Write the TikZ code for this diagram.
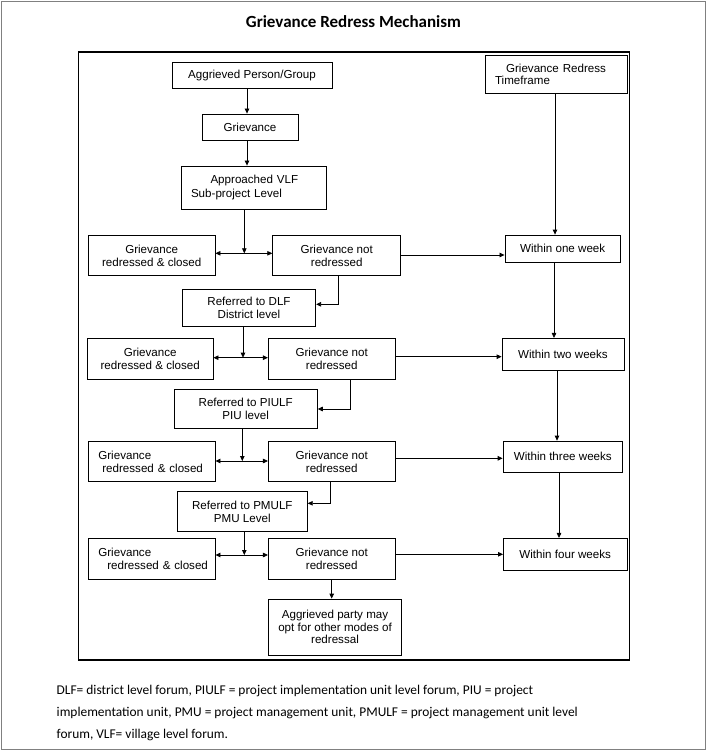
\documentclass[tikz,border=0pt]{standalone}
\usepackage{fontspec}
\setmainfont{Liberation Sans}
\newfontfamily\calfont{Carlito}
\usetikzlibrary{arrows.meta}
\definecolor{framegray}{RGB}{128,128,128}
\begin{document}
\begin{tikzpicture}[x=1pt,y=-1pt,
  box/.style={draw=black, line width=0.8pt, rectangle, inner sep=0pt, align=center,
    font=\fontsize{11.6}{12.6}\selectfont},
  lbox/.style={box, align=left},
  arr/.style={line width=0.8pt, -{Triangle[length=5pt,width=4.5pt]}},
  darr/.style={line width=0.8pt, {Triangle[length=5pt,width=4.5pt]}-{Triangle[length=5pt,width=4.5pt]}},
  foot/.style={anchor=base west, inner sep=0pt, font=\calfont\fontsize{13.4}{15}\selectfont}]
\useasboundingbox (0,0) rectangle (707,751);
\fill[white] (0,0) rectangle (707,751);
% outer gray frame and inner frame
\draw[line width=1.5pt, framegray] (1.5,1.5) rectangle (705.5,749.5);
\draw[line width=1.2pt] (78.5,52) rectangle (629.3,660);
% title
\node[anchor=base, inner sep=0pt, font=\calfont\bfseries\fontsize{17}{20}\selectfont] (title) at (353.5,28) {Grievance Redress Mechanism};
% left / centre column
\node[box, minimum width=160pt, minimum height=26pt] (ag) at (252,75.5) {Aggrieved Person/Group};
\node[box, minimum width=96pt, minimum height=26.5pt] (griev) at (250,127.25) {Grievance};
\node[lbox, text width=144.3pt, minimum height=43pt, font=\fontsize{11.6}{14}\selectfont] (appr) at (253.85,187.5) {\hspace*{28.8pt}Approached VLF\\\hspace*{9.3pt}Sub-project Level};
\node[box, minimum width=126.7pt, minimum height=40pt] (gr1) at (151.7,255.7) {Grievance\\redressed \& closed};
\node[box, minimum width=128pt, minimum height=40pt] (gnr1) at (336.7,255.7) {Grievance not\\redressed};
\node[box, minimum width=133.4pt, minimum height=36.7pt] (dlf) at (249,307.7) {Referred to DLF\\District level};
\node[box, minimum width=125.7pt, minimum height=40.7pt] (gr2) at (150.2,358.7) {Grievance\\redressed \& closed};
\node[box, minimum width=126.7pt, minimum height=40.7pt] (gnr2) at (331.7,358.7) {Grievance not\\redressed};
\node[box, minimum width=143.3pt, minimum height=39.3pt] (piulf) at (245.7,408.7) {Referred to PIULF\\PIU level};
\node[lbox, text width=126.7pt, minimum height=40pt] (gr3) at (151.7,461.7) {\hspace*{10pt}Grievance\\\hspace*{14pt}redressed \& closed};
\node[box, minimum width=126.7pt, minimum height=40pt] (gnr3) at (331.7,461.7) {Grievance not\\redressed};
\node[box, minimum width=130pt, minimum height=40pt] (pmulf) at (242.3,511.7) {Referred to PMULF\\PMU Level};
\node[lbox, text width=126.7pt, minimum height=41pt] (gr4) at (151.7,558.8) {\hspace*{10pt}Grievance\\\hspace*{19pt}redressed \& closed};
\node[box, minimum width=126.7pt, minimum height=41pt] (gnr4) at (331.7,558.8) {Grievance not\\redressed};
\node[box, minimum width=133.4pt, minimum height=56pt] (agp) at (335,627) {Aggrieved party may\\opt for other modes of\\redressal};
% right column
\node[lbox, text width=142.3pt, minimum height=38.3pt] (tf) at (556.2,74.2) {\hspace*{21pt}Grievance Redress\\\hspace*{10pt}Timeframe};
\node[box, minimum width=115.5pt, minimum height=27.5pt] (w1) at (562.7,248.75) {Within one week};
\node[box, minimum width=122pt, minimum height=31.7pt] (w2) at (563,354.2) {Within two weeks};
\node[box, minimum width=119.5pt, minimum height=31.3pt] (w3) at (562.8,456.7) {Within three weeks};
\node[box, minimum width=123.5pt, minimum height=31.7pt] (w4) at (565.2,554.2) {Within four weeks};
% helper coordinates
\coordinate (c1) at (247,0);
\coordinate (j1) at (244.3,253.3);
\coordinate (j2) at (243,357.7);
\coordinate (j3) at (242.3,461);
\coordinate (j4) at (244.3,555);
\coordinate (k1) at (338.3,304.3);
\coordinate (k2) at (350.7,409);
\coordinate (k3) at (330.7,503.3);
\coordinate (k4) at (331.7,0);
\coordinate (h1) at (450,255);
\coordinate (h2) at (450,356.7);
\coordinate (h3) at (450,458.3);
\coordinate (h4) at (450,554.3);
\coordinate (r1) at (555,0);
\coordinate (r2) at (554,0);
\coordinate (r3) at (557,0);
\coordinate (r4) at (559,0);
% connectors
\draw[arr] (ag.south -| c1) -- (griev.north -| c1);
\draw[arr] (griev.south -| c1) -- (appr.north -| c1);
\draw[arr] (appr.south -| j1) -- (j1);
\draw[darr] (gr1.east |- j1) -- (gnr1.west |- j1);
\draw[arr] (gnr1.south -| k1) |- (dlf.east |- k1);
\draw[arr] (gnr1.east |- h1) -- (w1.west |- h1);
\draw[arr] (dlf.south -| j2) -- (j2);
\draw[darr] (gr2.east |- j2) -- (gnr2.west |- j2);
\draw[arr] (gnr2.south -| k2) |- (piulf.east |- k2);
\draw[arr] (gnr2.east |- h2) -- (w2.west |- h2);
\draw[arr] (piulf.south -| j3) -- (j3);
\draw[darr] (gr3.east |- j3) -- (gnr3.west |- j3);
\draw[arr] (gnr3.south -| k3) |- (pmulf.east |- k3);
\draw[arr] (gnr3.east |- h3) -- (w3.west |- h3);
\draw[arr] (pmulf.south -| j4) -- (j4);
\draw[darr] (gr4.east |- j4) -- (gnr4.west |- j4);
\draw[arr] (gnr4.south -| k4) -- (agp.north -| k4);
\draw[arr] (gnr4.east |- h4) -- (w4.west |- h4);
\draw[arr] (tf.south -| r1) -- (w1.north -| r1);
\draw[arr] (w1.south -| r2) -- (w2.north -| r2);
\draw[arr] (w2.south -| r3) -- (w3.north -| r3);
\draw[arr] (w3.south -| r4) -- (w4.north -| r4);
% footnote
\node[foot] (f1) at (56.5,694) {DLF= district level forum, PIULF = project implementation unit level forum, PIU = project};
\node[foot] (f2) at (56.5,716) {implementation unit, PMU = project management unit, PMULF = project management unit level};
\node[foot] (f3) at (56.5,738) {forum, VLF= village level forum.};
\end{tikzpicture}
\end{document}
